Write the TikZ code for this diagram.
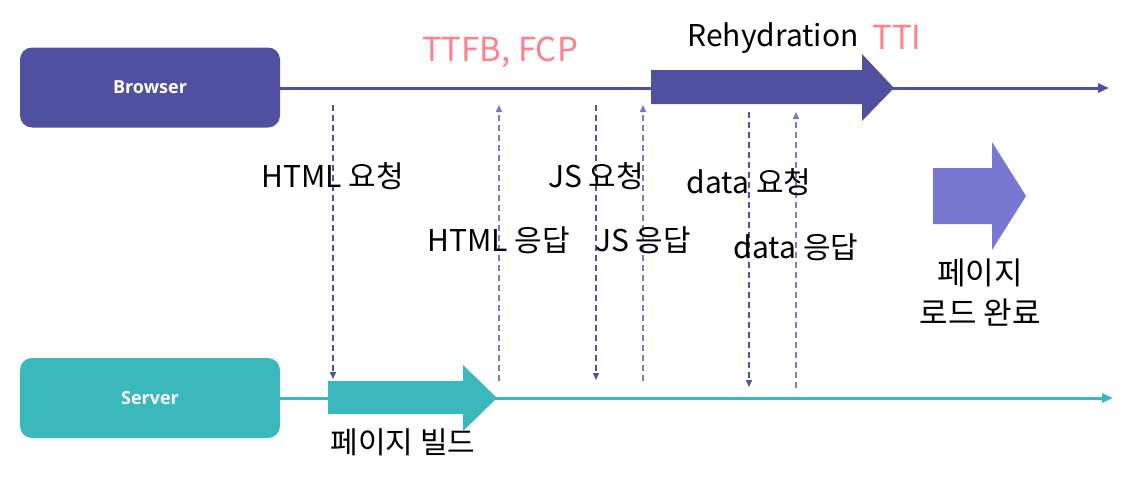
\documentclass[tikz,border=0pt]{standalone}
\usepackage{fontspec}
\setmainfont{Noto Sans CJK KR}
\newfontfamily\boxfont{Open Sans}
\usetikzlibrary{arrows.meta}
\definecolor{bpurple}{HTML}{5050A0}
\definecolor{lpurple}{HTML}{7878D0}
\definecolor{steal}{HTML}{3BB8BB}
\definecolor{pinkc}{HTML}{FF7F8F}
\tikzset{
  x=1pt,y=-1pt,
  actor/.style={rounded corners=12pt,minimum width=260pt,minimum height=80pt,inner sep=0pt,text=white,font=\boxfont\bfseries\fontsize{18}{21}\selectfont},
  lbl/.style={font=\fontsize{30}{36}\selectfont,text=black,inner sep=0pt},
  pink/.style={font=\fontsize{33}{38}\selectfont,text=pinkc,inner sep=0pt},
  req/.style={bpurple,dashed,dash pattern=on 6pt off 4pt,line width=1.5pt,-{Triangle[length=7pt,width=6pt]}},
  resp/.style={lpurple,dashed,dash pattern=on 6pt off 4pt,line width=1.5pt,-{Triangle[length=7pt,width=6pt]}},
}
\begin{document}
\begin{tikzpicture}
\useasboundingbox (0,0) rectangle (1145,491);
% actors
\node[actor,fill=bpurple] (browser) at (150,87.5) {Browser};
\node[actor,fill=steal] (server) at (150,398) {Server};
\coordinate (bend) at (1109,88);
\coordinate (send) at (1113,398);
\draw[bpurple,line width=3pt,-{Triangle[length=11pt,width=9pt]}] (browser.east |- bend) -- (bend);
\draw[steal,line width=3pt,-{Triangle[length=11pt,width=9pt]}] (server.east |- send) -- (send);
% block arrows
\fill[bpurple] (651,70) -- (862,70) -- (862,54) -- (894,88) -- (862,121) -- (862,104) -- (651,104) -- cycle;
\fill[steal] (328,381) -- (463,381) -- (463,365) -- (497,398) -- (463,431) -- (463,414) -- (328,414) -- cycle;
\fill[lpurple] (933,168) -- (992,168) -- (992,142) -- (1026,196) -- (992,250) -- (992,224) -- (933,224) -- cycle;
% dashed messages
\coordinate (a1) at (333,105); \coordinate (b1) at (333,379);
\coordinate (a2) at (499,381); \coordinate (b2) at (499,105);
\coordinate (a3) at (596,105); \coordinate (b3) at (596,380);
\coordinate (a4) at (643,381); \coordinate (b4) at (643,105);
\coordinate (a5) at (749,112); \coordinate (b5) at (749,387);
\coordinate (a6) at (796,388); \coordinate (b6) at (796,112);
\draw[req] (a1) -- (b1);
\draw[resp] (a2) -- (b2);
\draw[req] (a3) -- (b3);
\draw[resp] (a4) -- (b4);
\draw[req] (a5) -- (b5);
\draw[resp] (a6) -- (b6);
% labels
\node[lbl] (l1) at (333,176) {HTML 요청};
\node[lbl] (l2) at (499,240) {HTML 응답};
\node[lbl] (l3) at (596,176) {JS 요청};
\node[lbl] (l4) at (643,240) {JS 응답};
\node[lbl] (l5) at (749,182) {data 요청};
\node[lbl] (l6) at (796,247) {data 응답};
\node[lbl] (reh) at (773,38) {Rehydration};
\node[pink] (tti) at (897,37) {TTI};
\node[pink] (ttfb) at (500,52) {TTFB, FCP};
\node[lbl] (build) at (403,442) {페이지 빌드};
\node[lbl,align=center,font=\fontsize{31}{40}\selectfont] (done) at (980,293) {페이지\\로드 완료};
\end{tikzpicture}
\end{document}
